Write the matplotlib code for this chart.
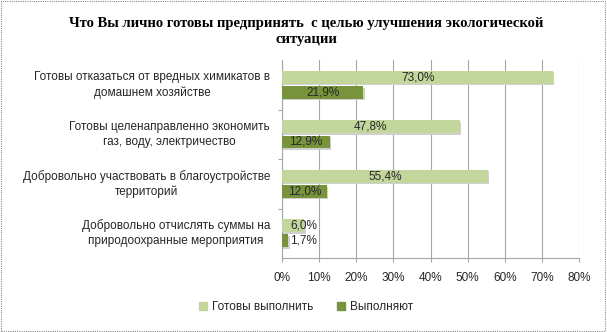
"""
Survey: what respondents are personally ready to do for the environment.
Paired horizontal bars: "ready to do" vs "already doing", in percent.
"""

import matplotlib
matplotlib.use("Agg")
import matplotlib.pyplot as plt
import matplotlib.patches as mpatches
from matplotlib.ticker import FuncFormatter

TITLE = ("Что Вы лично готовы предпринять  с целью улучшения экологической\n"
         "ситуации")

CATEGORIES = [
    "Готовы отказаться от вредных химикатов в\nдомашнем хозяйстве",
    "Готовы целенаправленно экономить\nгаз, воду, электричество",
    "Добровольно участвовать в благоустройстве\nтерриторий",
    "Добровольно отчислять суммы на\nприродоохранные мероприятия",
]
READY = [73.0, 47.8, 55.4, 6.0]
DOING = [21.9, 12.9, 12.0, 1.7]
SERIES = ["Готовы выполнить", "Выполняют"]

X_TICKS = [0, 10, 20, 30, 40, 50, 60, 70, 80]

COL_READY = "#c3d69b"
COL_DOING = "#77933c"
GRID = "#a6a6a6"
TEXT = "#262626"
SANS = ["Liberation Sans", "DejaVu Sans"]
SERIF = ["Liberation Serif", "DejaVu Serif"]

BAR_H = 0.26
OFFSET = 0.155


def fmt_pct(v):
    return f"{v:.1f}%".replace(".", ",")


fig = plt.figure(figsize=(6.07, 3.32), dpi=100)
fig.patch.set_facecolor("white")

# dotted outer frame of the chart area
fig.add_artist(mpatches.Rectangle((0.002, 0.003), 0.994, 0.994, transform=fig.transFigure,
                                  fill=False, edgecolor="#8c8c8c", lw=0.8, ls=(0, (1, 1))))

ax = fig.add_axes([0.4646, 0.2229, 0.4894, 0.5961])

n = len(CATEGORIES)
ypos = [n - 1 - i for i in range(n)]

for y, r, d in zip(ypos, READY, DOING):
    for val, yc, col in ((r, y + OFFSET, COL_READY), (d, y - OFFSET, COL_DOING)):
        # soft drop shadow behind the bar
        ax.barh(yc - 0.03, val, left=0.35, height=BAR_H, color="#d0d0d0",
                edgecolor="none", zorder=2)
        ax.barh(yc, val, height=BAR_H, color=col, edgecolor="none", zorder=3)
        if val >= 10:
            ax.text(val / 2, yc, fmt_pct(val), ha="center", va="center",
                    fontsize=8.5, color=TEXT, family=SANS, zorder=4)
        else:
            ax.text(2.2, yc, fmt_pct(val), ha="left", va="center",
                    fontsize=8.5, color=TEXT, family=SANS, zorder=4)

ax.set_xlim(0, 80)
ax.set_ylim(-0.5, n - 0.5)
ax.set_xticks(X_TICKS)
ax.xaxis.set_major_formatter(FuncFormatter(lambda v, _: f"{v:.0f}%"))
ax.set_yticks([y + 0.5 for y in range(n - 1)], minor=False)
ax.set_yticklabels([])
ax.tick_params(axis="y", length=3, color=GRID, direction="out")
ax.tick_params(axis="x", length=3, color=GRID, direction="out", pad=7,
               labelsize=8.5, labelcolor=TEXT)
for lab in ax.get_xticklabels():
    lab.set_family(SANS)

# category labels, right-aligned against the axis, lines centred
for y, label in zip(ypos, CATEGORIES):
    ax.text(-3.2, y, label, ha="right", va="center", multialignment="center",
            fontsize=8.5, color=TEXT, family=SANS, linespacing=1.3,
            transform=ax.transData, clip_on=False)

ax.xaxis.grid(True, color=GRID, lw=0.8)
ax.set_axisbelow(True)
for side in ("top", "right"):
    ax.spines[side].set_visible(False)
for side in ("left", "bottom"):
    ax.spines[side].set_color(GRID)
    ax.spines[side].set_linewidth(0.8)

fig.text(0.505, 0.905, TITLE, ha="center", va="center", fontsize=10.5,
         fontweight="bold", family=SERIF, linespacing=1.35, color="black")

handles = [mpatches.Patch(color=COL_READY, label=SERIES[0]),
           mpatches.Patch(color=COL_DOING, label=SERIES[1])]
leg = fig.legend(handles=handles, loc="center", bbox_to_anchor=(0.505, 0.075), ncol=2,
                 frameon=False, handlelength=0.6, handleheight=0.6, handletextpad=0.5,
                 columnspacing=2.0, prop={"family": SANS, "size": 8.5})
for t in leg.get_texts():
    t.set_color(TEXT)

fig.savefig("out.png", dpi=100)
